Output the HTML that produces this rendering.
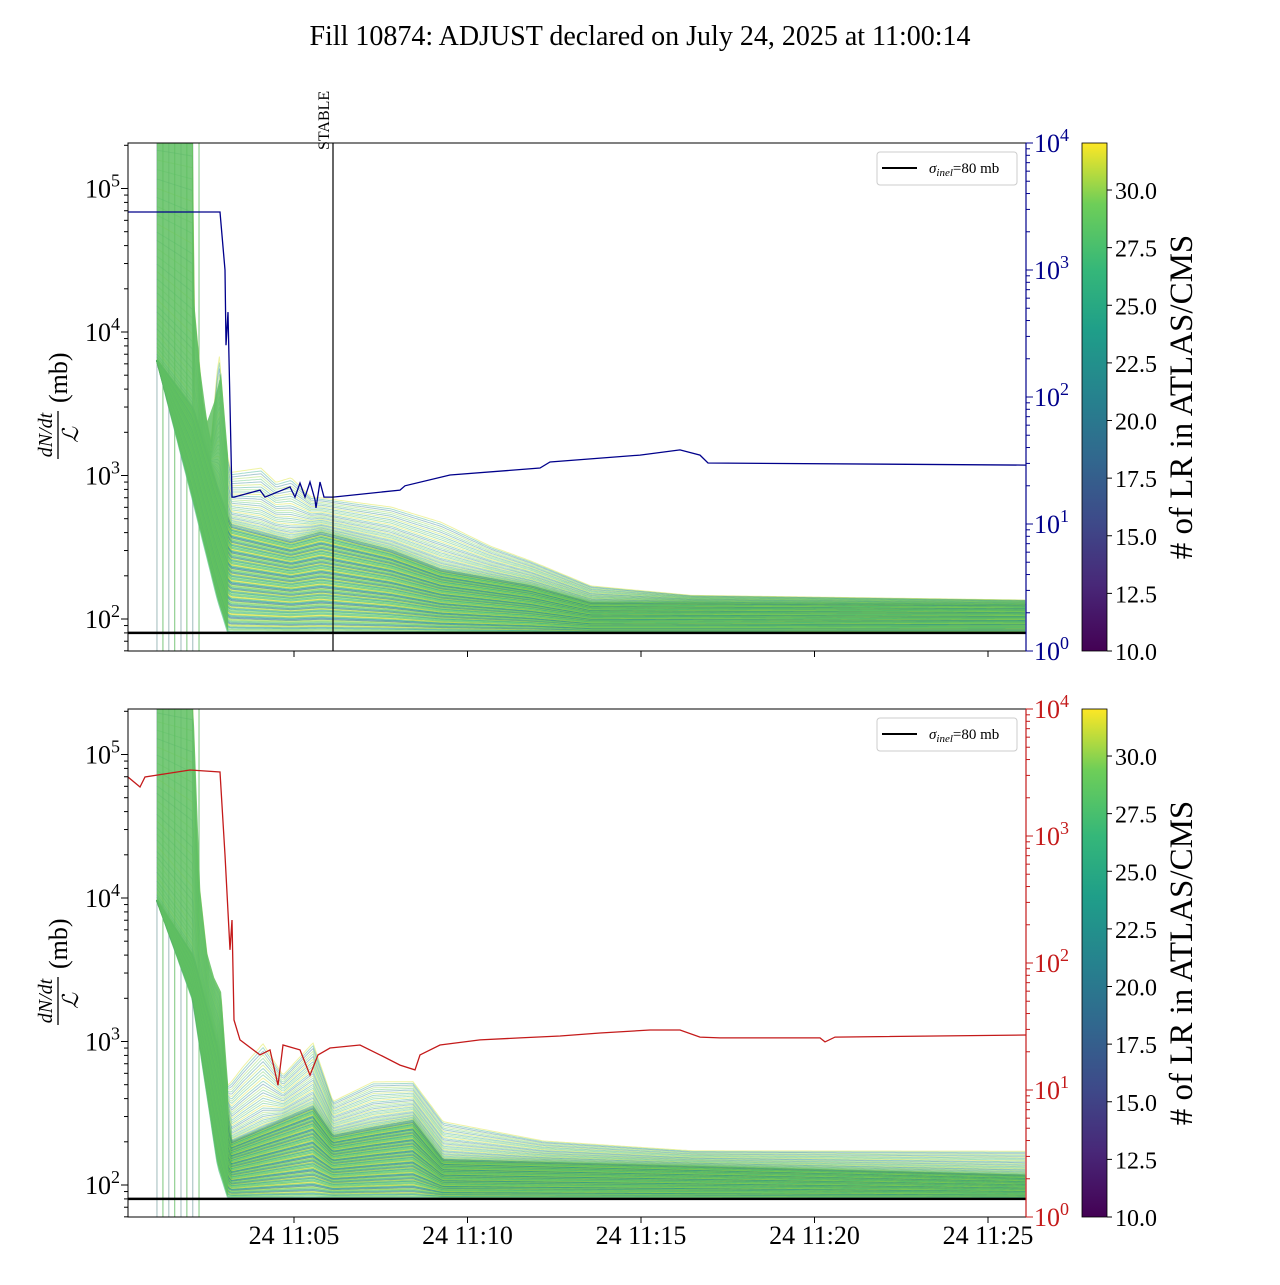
<!DOCTYPE html>
<html><head><meta charset="utf-8"><style>
body{margin:0;background:#fff;}
svg text{font-family:"Liberation Serif",serif;}
</style></head><body>
<svg id="c" width="1280" height="1280" viewBox="0 0 1280 1280" xmlns="http://www.w3.org/2000/svg">
<defs>
<linearGradient id="vir" x1="0" y1="1" x2="0" y2="0">
<stop offset="0" stop-color="#440154"/><stop offset="0.13" stop-color="#482878"/><stop offset="0.25" stop-color="#3e4989"/><stop offset="0.38" stop-color="#31688e"/><stop offset="0.5" stop-color="#26828e"/><stop offset="0.63" stop-color="#1f9e89"/><stop offset="0.75" stop-color="#35b779"/><stop offset="0.88" stop-color="#6ece58"/><stop offset="1" stop-color="#fde725"/>
</linearGradient>
<clipPath id="clipT"><rect x="128" y="143" width="898" height="508"/></clipPath>
<clipPath id="clipB"><rect x="128" y="709" width="898" height="508"/></clipPath>
</defs>
<text x="640" y="45" font-size="28" text-anchor="middle">Fill 10874: ADJUST declared on July 24, 2025 at 11:00:14</text>
<g id="g"></g>
</svg>
<script>
// ---- data (minutes after 11:00) ----
const blueT=[0.216,2.867,3.012,3.040,3.098,3.213,3.271,4.020,4.164,4.885,5.029,5.173,5.317,5.461,5.605,5.634,5.749,5.865,6.124,8.055,8.199,9.496,12.089,12.378,14.971,16.124,16.700,16.931,26.095];
const blueV=[2860,2860,1000,256,466,16.3,16.3,18.5,16.3,19.6,16.3,21,16.3,21.4,15.5,13.4,21.4,16.3,16.3,18.5,20,24.3,27.6,30.8,34.9,38.3,34.9,30.2,29.1];
const redT=[0.216,0.562,0.706,2.003,2.867,3.012,3.156,3.213,3.271,3.444,4.020,4.308,4.539,4.683,5.173,5.461,5.692,6.037,6.902,7.478,8.055,8.487,8.631,9.207,10.360,11.513,12.666,13.818,15.259,16.124,16.700,17.277,20.159,20.303,20.591,26.095];
const redV=[2915,2430,2915,3310,3190,708,127,218,35.6,24.8,18.9,20.7,10.9,22.6,20.7,13.1,18.9,21.4,22.6,18.9,15.7,14.4,18.9,22.6,24.8,25.7,26.6,28.1,29.7,29.7,26.1,25.7,25.7,23.9,26.1,27.1];
const topBandT=[1.05,2.089,2.118,2.377,2.608,2.838,3.069,3.184,4.049,4.481,4.914,5.490,6.643,7.796,9.237,10.677,11.830,13.559,16.441,26.095];
const topUpper=[300000,300000,16700,3360,1770,8110,1510,1090,1180,931,1010,731,674,622,489,328,258,172,147,136];
const topMidT=[1.05,2.089,2.810,3.184,4.914,5.778,7.796,9.237,11.830,13.559,26.095];
const topMid=[6380,3000,800,450,350,400,300,220,170,130,125];
const topLowT=[1.05,2.089,2.810,3.098,26.095];
const topLow=[6380,674,135,81,81];
const botBandT=[1.05,2.089,2.233,2.521,2.723,2.896,3.069,3.530,4.107,4.683,5.548,6.124,7.277,8.430,9.294,12.176,16.499,26.095];
const botUpper=[300000,300000,15700,3700,2690,2290,498,700,1024,600,1024,391,540,540,284,206,175,175];
const botMidT=[1.05,2.089,2.810,3.184,4.107,5.548,6.124,7.277,8.430,9.294,26.095];
const botMid=[9680,4000,900,200,250,350,220,250,280,150,117];
const botLowT=[1.05,2.089,2.810,3.098,26.095];
const botLow=[9680,1945,135,82,82];
const xTicks=[5,10,15,20,25];
const xTickLabels=["24 11:05","24 11:10","24 11:15","24 11:20","24 11:25"];
const cbTicks=[10,12.5,15,17.5,20,22.5,25,27.5,30];
const vlineT=[0.878,1.05,1.22,1.39,1.57,1.74,1.91,2.09];
const stableT=6.124;
const sigma=80;

const NS="http://www.w3.org/2000/svg";
const G=document.getElementById('g');
function el(tag,attrs,parent){const e=document.createElementNS(NS,tag);for(const k in attrs)e.setAttribute(k,attrs[k]);(parent||G).appendChild(e);return e;}
const xs=t=>294+(t-5)*34.7;
function yL(v,off){return 619+off-(Math.log10(v)-2)*143.5;}
function yR(v,off){return 651+off-Math.log10(v)*127;}
function interp(T,V,t){ if(t<=T[0])return V[0]; for(let i=1;i<T.length;i++){if(t<=T[i]){const f=(t-T[i-1])/(T[i]-T[i-1]);return Math.pow(10,Math.log10(V[i-1])*(1-f)+Math.log10(V[i])*f);}} return V[V.length-1];}
const vir=["#35b779","#6ece58","#1f9e89","#b5de2b","#26828e","#4ac16d","#90d743","#2a788e","#22a884","#d8e219"];

function panel(off,name,rT,rV,rColor,uT,uV,mT,mV,lT,lV,showStable,showXlabels){
  const top=143+off, bot=651+off;
  const pg=el('g',{'clip-path':off?'url(#clipB)':'url(#clipT)'});
  
  
  vlineT.forEach((t,i)=>{const l=el('line',{x1:xs(t)+6,x2:xs(t)+6,y1:top,y2:bot,stroke:i%2?'#5cb85c':'#8aa',"stroke-width":1,opacity:0.8},pg);
    
    });
  const tgrid=[];for(let t=1.05;t<=26.1;t+=0.06)tgrid.push(t);
  const N=100;
  for(let i=0;i<N;i++){
    let pts=[];const upperPart=i>=65;
    const f=upperPart?Math.pow((i-65)/35,1.5):Math.pow(i/65,0.9);
    tgrid.forEach(t=>{const lo=interp(lT,lV,t),mi=interp(mT,mV,t),up=interp(uT,uV,t);
      let v;
      if(!upperPart)v=Math.pow(10,Math.log10(lo)*(1-f)+Math.log10(mi)*f);
      else v=Math.pow(10,Math.log10(mi)*(1-f)+Math.log10(up)*f);
      pts.push(xs(t).toFixed(1)+','+yL(v,off).toFixed(1));});
    const p=el('polyline',{points:pts.join(' '),fill:'none',stroke:vir[i%vir.length],'stroke-width':upperPart?1:2,opacity:upperPart?0.4:0.6},pg);
    
    
  }
  let wp=[];
  wp.push(xs(1.05)+','+top);wp.push(xs(2.089)+','+top);
  [2.12,2.3,2.5,2.7,2.9,3.1].forEach(t=>wp.push(xs(t)+','+yL(interp(uT,uV,t),off)));
  [3.1,2.8,2.4,2.089,1.5,1.05].forEach(t=>wp.push(xs(t)+','+yL(interp(lT,lV,t),off)));
  const w=el('polygon',{points:wp.join(' '),fill:'#5fbf62',opacity:0.85},pg);
  
  
  const s=el('line',{x1:128,x2:1026,y1:yL(sigma,off),y2:yL(sigma,off),stroke:'#000','stroke-width':2.5},pg);
  
  
  const rp=rT.map((t,i)=>xs(t).toFixed(1)+','+yR(rV[i],off).toFixed(1)).join(' ');
  const r=el('polyline',{points:rp,fill:'none',stroke:rColor,'stroke-width':1.3},pg);
  
  
  if(showStable){
    const sl=el('line',{x1:xs(stableT),x2:xs(stableT),y1:top,y2:bot,stroke:'#000','stroke-width':1.2});
    
    
    const st=el('text',{x:0,y:0,'font-size':16,transform:`translate(${xs(stableT)-4},150) rotate(-90)`});
    st.textContent='STABLE';
    
    
  }
  const fr=el('rect',{x:128,y:top,width:898,height:508,fill:'none',stroke:'#000','stroke-width':1});
  
  
  for(let d=1;d<=5;d++){for(let m=1;m<10;m++){const v=m*Math.pow(10,d);const y=yL(v,off);if(y<top||y>bot)continue;
    el('line',{x1:128,x2:128-(m==1?7:4),y1:y,y2:y,stroke:'#000'});
    if(m==1&&d>=2){const t=el('text',{x:120,y:y+9,'font-size':26,'text-anchor':'end'});
      t.innerHTML='10<tspan dy="-11" font-size="18">'+d+'</tspan>';
      
      }}}
  for(let d=0;d<=4;d++){for(let m=1;m<10;m++){const v=m*Math.pow(10,d);const y=yR(v,off);if(y<top-0.5||y>bot+0.5)continue;
    el('line',{x1:1026,x2:1026+(m==1?7:4),y1:y,y2:y,stroke:rColor});
    if(m==1){const t=el('text',{x:1034,y:y+9,'font-size':26,fill:rColor});
      t.innerHTML='10<tspan dy="-11" font-size="18">'+d+'</tspan>';
      
      }}}
  el('line',{x1:1026,x2:1026,y1:top,y2:bot,stroke:rColor,'stroke-width':1.2});
  xTicks.forEach((t,i)=>{const x=xs(t);el('line',{x1:x,x2:x,y1:bot,y2:bot+6,stroke:'#000'});
    if(showXlabels){const tl=el('text',{x:x,y:bot+27,'font-size':26,'text-anchor':'middle'});tl.textContent=xTickLabels[i];
      
      }});
  const yl=el('g',{transform:`translate(58,${top+254}) rotate(-90)`});
  
  
  el('text',{x:-38,y:-6,'font-size':20,'font-style':'italic','text-anchor':'middle'},yl).textContent='dN/dt';
  el('line',{x1:-62,x2:-14,y1:0,y2:0,stroke:'#000','stroke-width':1.3},yl);
  el('text',{x:-38,y:20,'font-size':22,'font-style':'italic','text-anchor':'middle'},yl).textContent='ℒ';
  el('text',{x:-6,y:9,'font-size':26},yl).textContent='(mb)';
  const lg=el('g',{});
  
  
  el('rect',{x:877,y:top+9,width:140,height:33,rx:3,fill:'#fff',stroke:'#ccc'},lg);
  el('line',{x1:882,x2:917,y1:top+25,y2:top+25,stroke:'#000','stroke-width':2},lg);
  const lt=el('text',{x:929,y:top+30,'font-size':15},lg);
  lt.innerHTML='<tspan font-style="italic">σ</tspan><tspan font-style="italic" font-size="11" dy="3">inel</tspan><tspan dy="-3">=80 mb</tspan>';
  const cb=el('rect',{x:1082,y:top,width:25,height:508,fill:'url(#vir)',stroke:'#000','stroke-width':0.8});
  
  
  const cy=v=>bot-(v-10)/22.04*508;
  cbTicks.forEach(v=>{const y=cy(v);el('line',{x1:1107,x2:1112,y1:y,y2:y,stroke:'#000'});
    const t=el('text',{x:1115,y:y+9,'font-size':24});t.textContent=v.toFixed(1);
    
    });
  const cl=el('text',{x:0,y:0,'font-size':33,'text-anchor':'middle',transform:`translate(1192,${top+254}) rotate(-90)`});
  cl.textContent='# of LR in ATLAS/CMS';
  
  
}
panel(0,'top-panel',blueT,blueV,'#00008b',topBandT,topUpper,topMidT,topMid,topLowT,topLow,true,false);
panel(566,'bottom-panel',redT,redV,'#c41a1a',botBandT,botUpper,botMidT,botMid,botLowT,botLow,false,true);
</script>
</body></html>
